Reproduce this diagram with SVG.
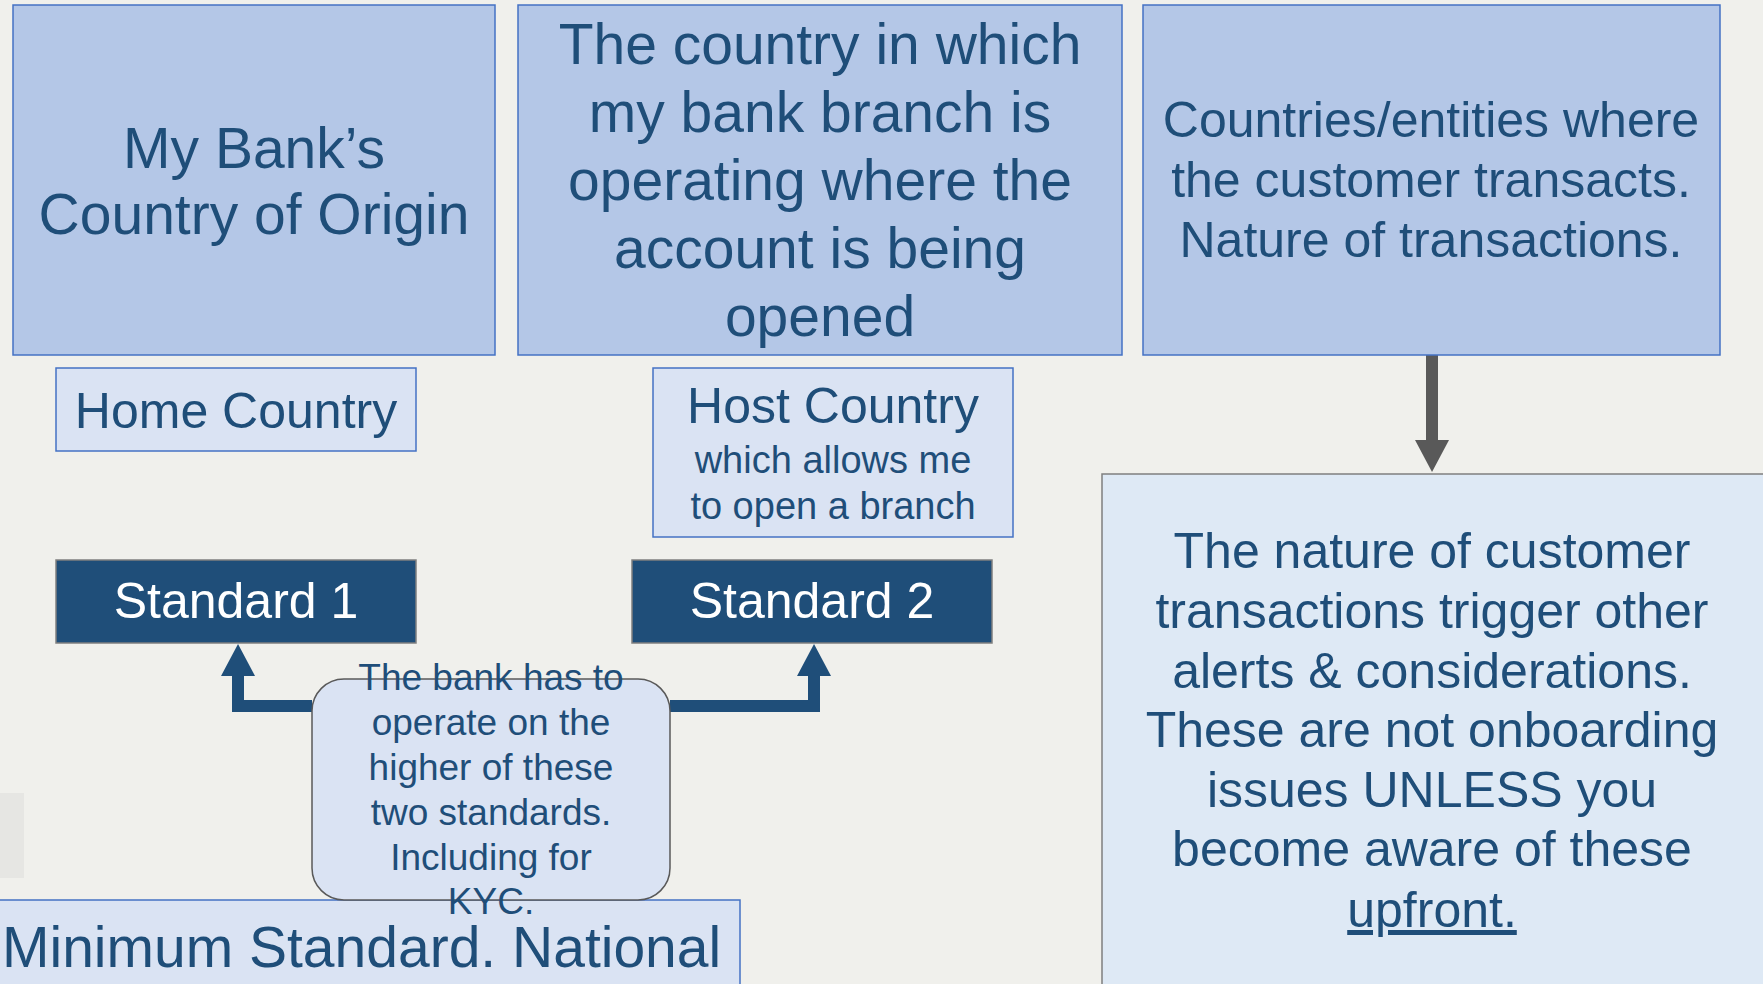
<svg xmlns="http://www.w3.org/2000/svg" width="1763" height="984" viewBox="0 0 1763 984">
<style>
.t{font-family:"Liberation Sans",Arial,sans-serif;fill:#1f4e79;text-anchor:middle}
.w{fill:#ffffff}
.big{fill:#b4c7e7;stroke:#4472c4;stroke-width:1.5}
.lt{fill:#dae3f3;stroke:#4472c4;stroke-width:1.5}
.dk{fill:#1f4e79;stroke:#7f7f7f;stroke-width:1.5}
.conn{fill:none;stroke-width:12;stroke-linejoin:miter}
</style>
<defs>
<marker id="hb" viewBox="0 0 32 34" refX="0" refY="17" markerWidth="32" markerHeight="34" orient="auto" markerUnits="userSpaceOnUse"><path d="M0,0 L32,17 L0,34 z" fill="#1f4e79"/></marker>
<marker id="hg" viewBox="0 0 32 34" refX="0" refY="17" markerWidth="32" markerHeight="34" orient="auto" markerUnits="userSpaceOnUse"><path d="M0,0 L32,17 L0,34 z" fill="#595959"/></marker>
</defs>
<rect x="0" y="0" width="1763" height="984" fill="#f0f0ec"/>

<g id="connectors">
<path class="conn" d="M312,706 H238 V676" stroke="#1f4e79" marker-end="url(#hb)"/>
<path class="conn" d="M670,706 H814 V676" stroke="#1f4e79" marker-end="url(#hb)"/>
<path class="conn" d="M1432,355 V440" stroke="#595959" marker-end="url(#hg)"/>
</g>

<g id="origin">
<rect class="big" x="13" y="5" width="482" height="350"/>
<text class="t" font-size="57"><tspan x="254" y="168">My Bank’s</tspan><tspan x="254" y="234">Country of Origin</tspan></text>
</g>

<g id="branch-country">
<rect class="big" x="518" y="5" width="604" height="350"/>
<text class="t" font-size="57"><tspan x="820" y="64">The country in which</tspan><tspan x="820" y="132">my bank branch is</tspan><tspan x="820" y="200">operating where the</tspan><tspan x="820" y="268">account is being</tspan><tspan x="820" y="336">opened</tspan></text>
</g>

<g id="transactions">
<rect class="big" x="1143" y="5" width="577" height="350"/>
<text class="t" font-size="50"><tspan x="1431" y="137">Countries/entities where</tspan><tspan x="1431" y="197">the customer transacts.</tspan><tspan x="1431" y="257">Nature of transactions.</tspan></text>
</g>

<g id="home-country">
<rect class="lt" x="56" y="368" width="360" height="83"/>
<text class="t" font-size="50" x="236" y="428">Home Country</text>
</g>

<g id="host-country">
<rect class="lt" x="653" y="368" width="360" height="169"/>
<text class="t" font-size="50" x="833" y="423">Host Country</text>
<text class="t" font-size="38"><tspan x="833" y="473">which allows me</tspan><tspan x="833" y="519">to open a branch</tspan></text>
</g>

<g id="standard-1">
<rect class="dk" x="56" y="560" width="360" height="83"/>
<text class="t w" font-size="50" x="236" y="618">Standard 1</text>
</g>

<g id="standard-2">
<rect class="dk" x="632" y="560" width="360" height="83"/>
<text class="t w" font-size="50" x="812" y="618">Standard 2</text>
</g>

<g id="left-edge">
<rect x="-2" y="793" width="26" height="85" fill="#e6e6e3"/>
</g>

<g id="national">
<rect class="lt" x="-2" y="900" width="742" height="100"/>
<text class="t" font-size="57" x="2" y="967" text-anchor="start" style="text-anchor:start">Minimum Standard. National</text>
</g>

<g id="callout">
<rect x="312" y="679" width="358" height="221" rx="32" ry="32" fill="#dae3f3" stroke="#595959" stroke-width="1.5"/>
<text class="t" font-size="37"><tspan x="491" y="690">The bank has to</tspan><tspan x="491" y="735">operate on the</tspan><tspan x="491" y="780">higher of these</tspan><tspan x="491" y="825">two standards.</tspan><tspan x="491" y="870">Including for</tspan><tspan x="491" y="914">KYC.</tspan></text>
</g>

<g id="nature">
<rect x="1102" y="474" width="663" height="520" fill="#dee9f5" stroke="#7f7f7f" stroke-width="1.5"/>
<text class="t" font-size="50"><tspan x="1432" y="568">The nature of customer</tspan><tspan x="1432" y="628">transactions trigger other</tspan><tspan x="1432" y="688">alerts &amp; considerations.</tspan><tspan x="1432" y="747">These are not onboarding</tspan><tspan x="1432" y="807">issues UNLESS you</tspan><tspan x="1432" y="866">become aware of these</tspan><tspan x="1432" y="927" text-decoration="underline">upfront.</tspan></text>
</g>
</svg>
